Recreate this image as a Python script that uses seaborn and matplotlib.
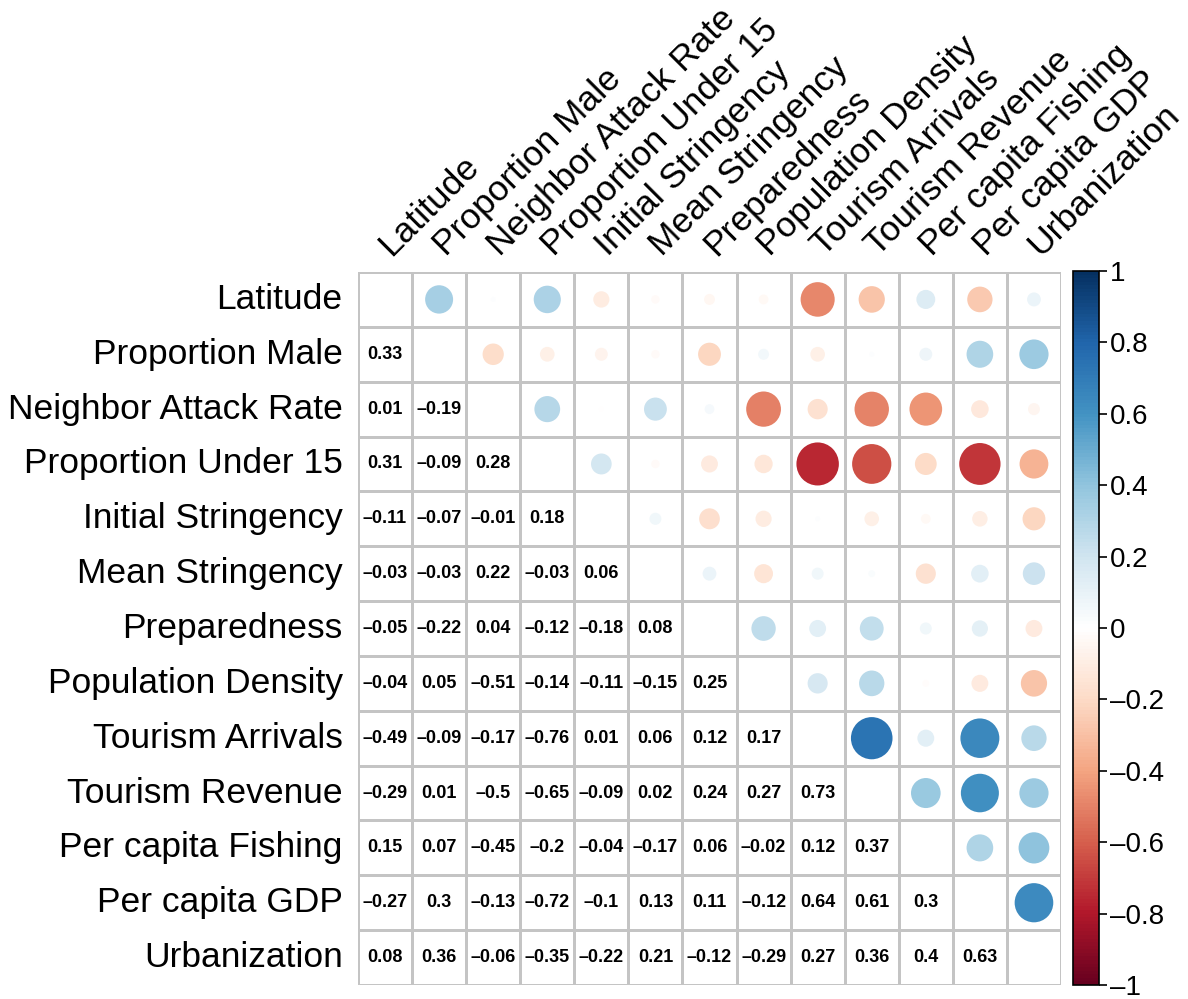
import numpy as np
import pandas as pd
import matplotlib
matplotlib.use("Agg")
import matplotlib.pyplot as plt
from matplotlib.colors import LinearSegmentedColormap, ListedColormap, Normalize
from matplotlib.patches import Circle
from matplotlib.cm import ScalarMappable
import seaborn as sns

variables = ["Latitude", "Proportion Male", "Neighbor Attack Rate", "Proportion Under 15",
             "Initial Stringency", "Mean Stringency", "Preparedness", "Population Density",
             "Tourism Arrivals", "Tourism Revenue", "Per capita Fishing", "Per capita GDP",
             "Urbanization"]

# lower triangle rows (row i has i values)
lower_rows = [
    [],
    [0.33],
    [0.01, -0.19],
    [0.31, -0.09, 0.28],
    [-0.11, -0.07, -0.01, 0.18],
    [-0.03, -0.03, 0.22, -0.03, 0.06],
    [-0.05, -0.22, 0.04, -0.12, -0.18, 0.08],
    [-0.04, 0.05, -0.51, -0.14, -0.11, -0.15, 0.25],
    [-0.49, -0.09, -0.17, -0.76, 0.01, 0.06, 0.12, 0.17],
    [-0.29, 0.01, -0.5, -0.65, -0.09, 0.02, 0.24, 0.27, 0.73],
    [0.15, 0.07, -0.45, -0.2, -0.04, -0.17, 0.06, -0.02, 0.12, 0.37],
    [-0.27, 0.3, -0.13, -0.72, -0.1, 0.13, 0.11, -0.12, 0.64, 0.61, 0.3],
    [0.08, 0.36, -0.06, -0.35, -0.22, 0.21, -0.12, -0.29, 0.27, 0.36, 0.4, 0.63],
]

cbar_ticks = [1, 0.8, 0.6, 0.4, 0.2, 0, -0.2, -0.4, -0.6, -0.8, -1]

n = len(variables)
corr = np.eye(n)
for i, row in enumerate(lower_rows):
    for j, v in enumerate(row):
        corr[i, j] = v
        corr[j, i] = v

def fmt(v):
    s = f"{v:.2f}".rstrip("0").rstrip(".")
    if s.startswith("-"):
        s = "\u2013" + s[1:]
    return s

annot = np.full((n, n), "", dtype=object)
for i in range(n):
    for j in range(i):
        annot[i, j] = fmt(corr[i, j])

df = pd.DataFrame(corr, index=variables, columns=variables)

rdbu = ["#67001F", "#B2182B", "#D6604D", "#F4A582", "#FDDBC7", "#FFFFFF",
        "#D1E5F0", "#92C5DE", "#4393C3", "#2166AC", "#053061"]
cmap = LinearSegmentedColormap.from_list("corrRdBu", rdbu, N=200)
norm = Normalize(vmin=-1, vmax=1)

plt.rcParams['font.family'] = ['Liberation Sans', 'DejaVu Sans']

W, H = 1188, 999
fig = plt.figure(figsize=(W / 100, H / 100), dpi=100)
ax = fig.add_axes([358 / W, (H - 985) / H, (1061 - 358) / W, (985 - 272) / H])

sns.heatmap(df, ax=ax, cmap=ListedColormap(["white"]), cbar=False,
            annot=annot, fmt="", linewidths=1.8, linecolor="#C4C4C4",
            annot_kws={"fontsize": 13, "fontweight": "bold", "color": "black"})

# circles in upper triangle
for i in range(n):
    for j in range(i + 1, n):
        v = corr[i, j]
        r = 0.9 * np.sqrt(abs(v)) / 2
        ax.add_patch(Circle((j + 0.5, i + 0.5), r, facecolor=cmap(norm(v)),
                            edgecolor="none", zorder=3))

ax.set_aspect("auto")
ax.tick_params(length=0)
ax.set_yticks(np.arange(n) + 0.5)
ax.set_yticklabels(variables, fontsize=25.5, rotation=0)
ax.tick_params(axis="y", pad=11)
ax.set_xticks([])
ax.set_xlabel("")
ax.set_ylabel("")
for j, name in enumerate(variables):
    ax.text(j + 0.62, -0.27, name, rotation=45, rotation_mode="anchor",
            ha="left", va="baseline", fontsize=25.5)

cax = fig.add_axes([1073 / W, (H - 985) / H, 26 / W, (985 - 271) / H])
sm = ScalarMappable(norm=norm, cmap=cmap)
cb = fig.colorbar(sm, cax=cax, ticks=cbar_ticks)
cb.outline.set_linewidth(1.2)
cb.ax.set_yticklabels([fmt(t) if t != 0 else "0" for t in cbar_ticks], fontsize=20)
cb.ax.tick_params(length=6, width=1.2, pad=2)

fig.savefig("out.png", dpi=100)
